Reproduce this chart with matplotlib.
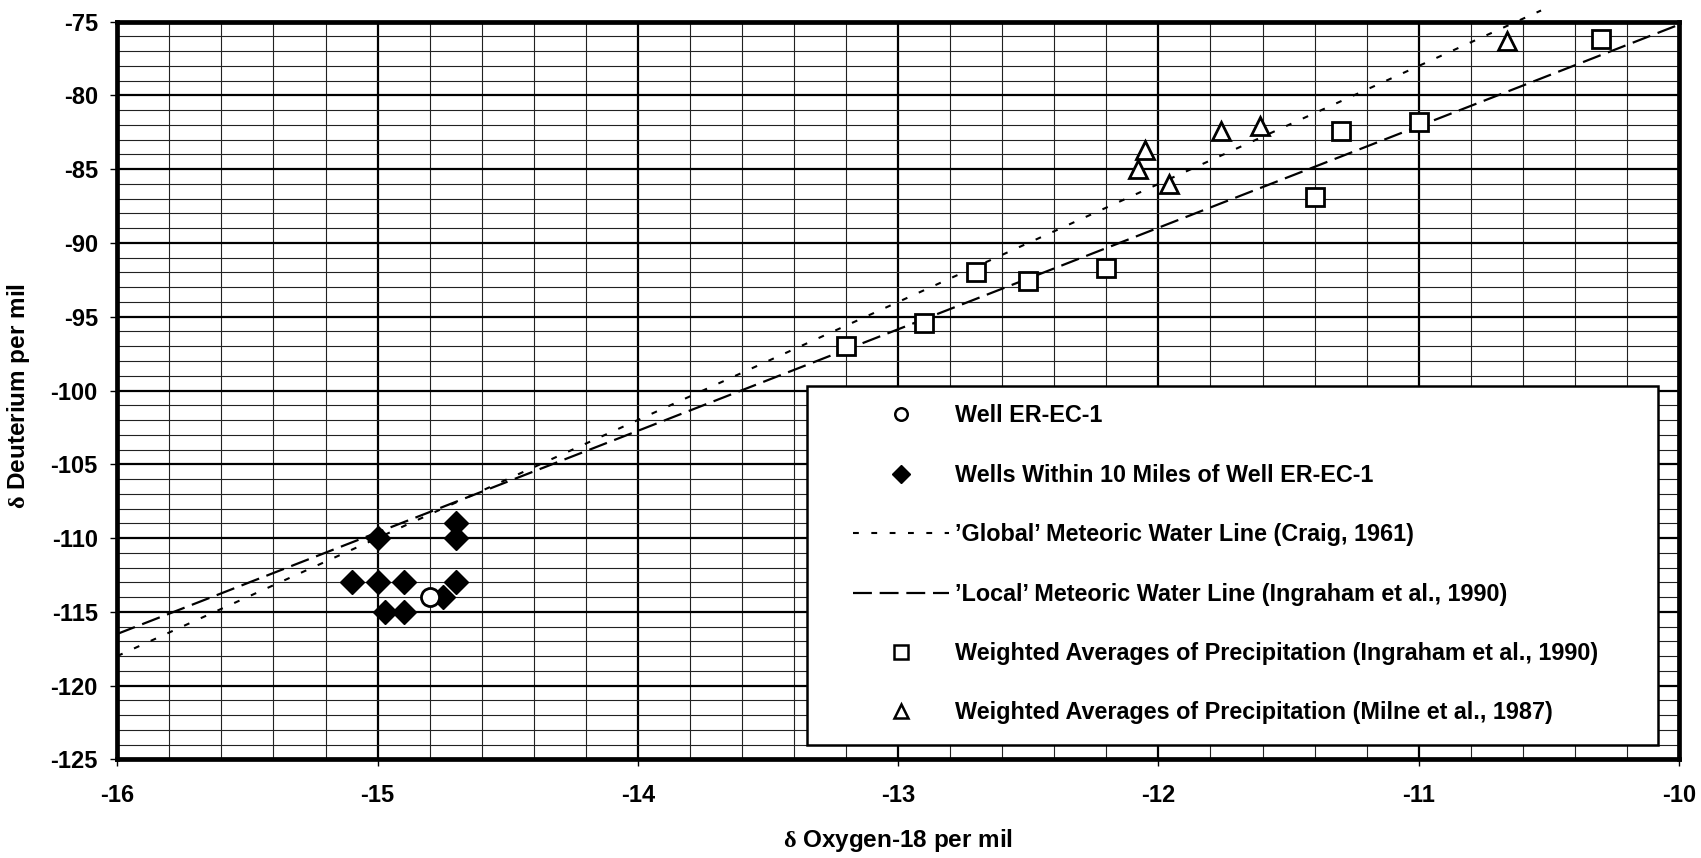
import matplotlib
matplotlib.use("Agg")
import matplotlib.pyplot as plt
from matplotlib.lines import Line2D
from matplotlib.patches import Rectangle
from matplotlib.ticker import MultipleLocator

plt.rcParams['font.family'] = ['Liberation Sans', 'DejaVu Sans']
plt.rcParams['font.weight'] = 'bold'
plt.rcParams['axes.unicode_minus'] = False
plt.rcParams['mathtext.fontset'] = 'custom'
plt.rcParams['mathtext.rm'] = 'Liberation Serif'
plt.rcParams['mathtext.it'] = 'Liberation Serif'

# ---- data ----
well_x = [-14.8]
well_y = [-114.0]

near_x = [-15.1, -15.0, -15.0, -14.97, -14.9, -14.9, -14.75, -14.7, -14.7, -14.7]
near_y = [-113, -110, -113, -115, -113, -115, -114, -113, -109, -110]

ingraham_x = [-13.2, -12.9, -12.7, -12.5, -12.2, -11.4, -11.3, -11.0, -10.3]
ingraham_y = [-97.0, -95.4, -92.0, -92.6, -91.7, -86.9, -82.4, -81.8, -76.2]

milne_x = [-12.08, -12.05, -11.96, -11.76, -11.61, -10.66]
milne_y = [-85.0, -83.7, -86.0, -82.4, -82.1, -76.3]

gmwl_x = [-16.0, -10.53]
gmwl_y = [-118.0, -74.24]

lmwl_x = [-16.0, -10.0]
lmwl_y = [-116.5, -75.2]

labels = [
    "Well ER-EC-1",
    "Wells Within 10 Miles of Well ER-EC-1",
    "\u2019Global\u2019 Meteoric Water Line (Craig, 1961)",
    "\u2019Local\u2019 Meteoric Water Line (Ingraham et al., 1990)",
    "Weighted Averages of Precipitation (Ingraham et al., 1990)",
    "Weighted Averages of Precipitation (Milne et al., 1987)",
]

GLOBAL_LS = (0, (2.8, 6.0))
LOCAL_LS = (0, (8.5, 3.5))

W, H = 1701, 858
fig = plt.figure(figsize=(W / 100, H / 100), dpi=100)
L, R, T, B = 117.3, 1679.0, 21.7, 759.3
ax = fig.add_axes([L / W, 1 - B / H, (R - L) / W, (B - T) / H])

ax.set_xlim(-16, -10)
ax.set_ylim(-125, -75)
ax.xaxis.set_major_locator(MultipleLocator(1))
ax.xaxis.set_minor_locator(MultipleLocator(0.2))
ax.yaxis.set_major_locator(MultipleLocator(5))
ax.yaxis.set_minor_locator(MultipleLocator(1))

ax.grid(which='major', color='black', linewidth=1.6, zorder=0)
ax.grid(which='minor', color='#222222', linewidth=0.8, zorder=0)
ax.set_axisbelow(True)

for s in ax.spines.values():
    s.set_linewidth(3.4)
    s.set_color('black')

ax.tick_params(which='major', direction='out', length=5, width=1, labelsize=17, pad=9)
ax.tick_params(axis='x', which='major', pad=13)
ax.tick_params(which='minor', length=0)
for t in ax.get_xticklabels() + ax.get_yticklabels():
    t.set_fontweight('bold')

# lines
ax.plot(gmwl_x, gmwl_y, color='black', lw=1.5, linestyle=GLOBAL_LS,
        zorder=3, clip_on=False)
ax.plot(lmwl_x, lmwl_y, color='black', lw=1.6, linestyle=LOCAL_LS, zorder=3)

# markers
ax.plot(near_x, near_y, linestyle='none', marker='D', ms=12.5, mfc='black',
        mec='black', zorder=4)
ax.plot(well_x, well_y, linestyle='none', marker='o', ms=13, mfc='white',
        mec='black', mew=2, zorder=5)
ax.plot(ingraham_x, ingraham_y, linestyle='none', marker='s', ms=12.5,
        mfc='white', mec='black', mew=2, zorder=4)
ax.plot(milne_x, milne_y, linestyle='none', marker='^', ms=13, mfc='white',
        mec='black', mew=2, zorder=4)

# legend frame
lx0 = (806.7 - L) / (R - L)
lx1 = (1658.0 - L) / (R - L)
ly_top = (B - 386.0) / (B - T)
ly_bot = (B - 745.0) / (B - T)
ax.add_patch(Rectangle((lx0, ly_bot), lx1 - lx0, ly_top - ly_bot,
                       transform=ax.transAxes, facecolor='white',
                       edgecolor='black', lw=1.8, zorder=6, clip_on=False))

handles = [
    Line2D([], [], linestyle='none', marker='o', ms=9, mfc='white', mec='black', mew=1.8),
    Line2D([], [], linestyle='none', marker='D', ms=9, mfc='black', mec='black'),
    Line2D([], [], color='black', lw=1.5, linestyle=GLOBAL_LS),
    Line2D([], [], color='black', lw=1.6, linestyle=LOCAL_LS),
    Line2D([], [], linestyle='none', marker='s', ms=10, mfc='white', mec='black', mew=1.8),
    Line2D([], [], linestyle='none', marker='^', ms=10, mfc='white', mec='black', mew=1.8),
]
leg = ax.legend(handles, labels, loc='upper left',
                bbox_to_anchor=((853 - L) / (R - L), (B - 404.5) / (B - T)),
                frameon=False, borderpad=0, borderaxespad=0,
                handlelength=4.1, handletextpad=0.25, labelspacing=1.56,
                prop={'weight': 'bold', 'size': 16.8})
leg.set_zorder(7)

fig.text(898 / W, 1 - 841 / H, r'$\mathrm{\delta}$ Oxygen-18 per mil',
         ha='center', va='center', fontsize=17.5, fontweight='bold')
fig.text(18.5 / W, 1 - 395.7 / H, r'$\mathrm{\delta}$ Deuterium per mil',
         ha='center', va='center', rotation=90, fontsize=17.5, fontweight='bold')

fig.savefig('out.png', dpi=100)
